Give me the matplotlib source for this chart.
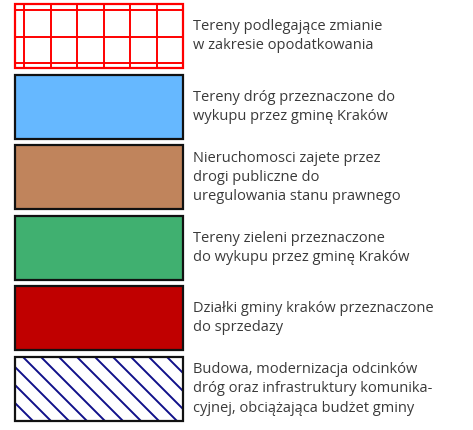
import matplotlib.pyplot as plt
import matplotlib.patches as mpatches
import numpy as np

# Legend entries (text as in the reference, with its line breaks)
labels = [
    "Tereny podlegające zmianie\nw zakresie opodatkowania",
    "Tereny dróg przeznaczone do\nwykupu przez gminę Kraków",
    "Nieruchomosci zajete przez\ndrogi publiczne do\nuregulowania stanu prawnego",
    "Tereny zieleni przeznaczone\ndo wykupu przez gminę Kraków",
    "Działki gminy kraków przeznaczone\ndo sprzedazy",
    "Budowa, modernizacja odcinków\ndróg oraz infrastruktury komunika-\ncyjnej, obciążająca budżet gminy",
]
fills = ["white", "#66b8ff", "#c0845c", "#40b070", "#c00000", "white"]
patterns = ["grid", None, None, None, None, "hatch"]

W, H = 473, 430
fig = plt.figure(figsize=(W / 100, H / 100), dpi=100)
ax = fig.add_axes([0, 0, 1, 1])
ax.set_xlim(0, W)
ax.set_ylim(H, 0)
ax.axis("off")

x0, x1 = 15, 183
bh = 64
step = 70.6

for i, (lab, fc, pat) in enumerate(zip(labels, fills, patterns)):
    top = 4 + i * step
    edge = "#ff0000" if pat == "grid" else "#111111"
    # fill underneath, pattern in the middle, outline on top
    ax.add_patch(mpatches.Rectangle((x0, top), x1 - x0, bh, facecolor=fc,
                                    edgecolor="none", zorder=1))
    ax.add_patch(mpatches.Rectangle((x0, top), x1 - x0, bh, facecolor="none",
                                    edgecolor=edge, lw=1.6, zorder=3))
    if pat == "grid":
        for gx in np.arange(x0 + 9, x1 + 1, 26.5):
            ax.plot([gx, gx], [top, top + bh], color="#ff0000", lw=1.4,
                    zorder=2)
        for gy in np.arange(top + 6, top + bh + 1, 26.5):
            ax.plot([x0, x1], [gy, gy], color="#ff0000", lw=1.4, zorder=2)
    elif pat == "hatch":
        clip = mpatches.Rectangle((x0, top), x1 - x0, bh,
                                  transform=ax.transData)
        for sx in np.arange(x0 - bh, x1, 18):
            ln, = ax.plot([sx, sx + bh], [top, top + bh],
                          color="#10108a", lw=1.4, zorder=2)
            ln.set_clip_path(clip)
    ax.text(193, top + bh / 2, lab, ha="left", va="center",
            fontsize=10.5, family=["Open Sans", "DejaVu Sans"],
            color="#3a3a3a", linespacing=1.38)

fig.savefig("out.png", dpi=100)
